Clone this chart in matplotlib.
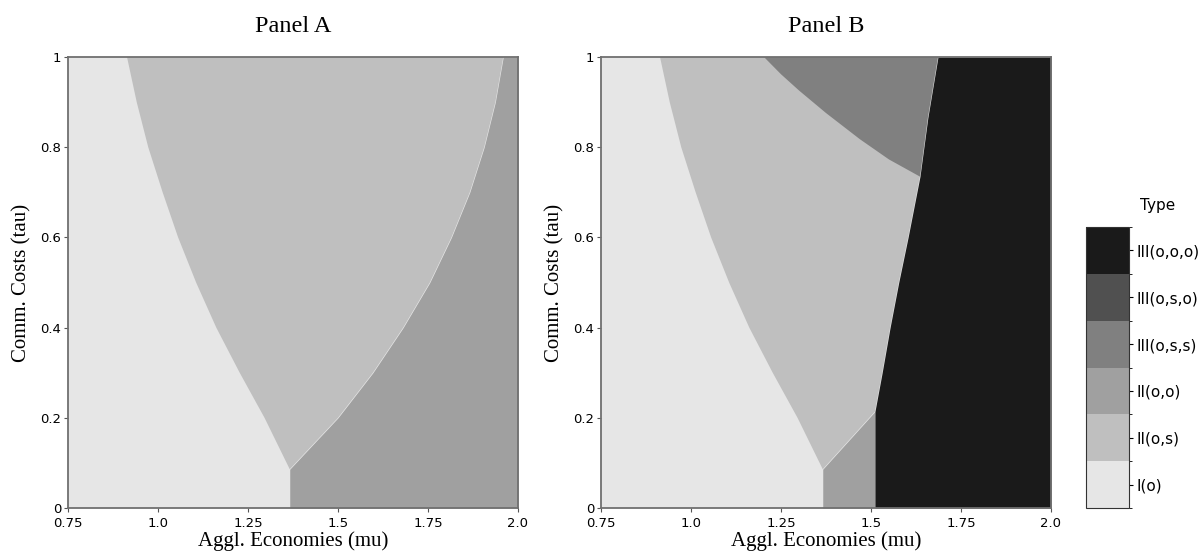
import numpy as np
import matplotlib
matplotlib.use("Agg")
import matplotlib.pyplot as plt
from matplotlib.colors import ListedColormap, BoundaryNorm
from matplotlib.cm import ScalarMappable

# ---- Regime types (colorbar) ----
type_labels = ['I(o)', 'II(o,s)', 'II(o,o)', 'III(o,s,s)', 'III(o,s,o)', 'III(o,o,o)']
type_colors = ['#e6e6e6', '#bfbfbf', '#a0a0a0', '#808080', '#505050', '#1a1a1a']

# ---- Panel A boundaries (mu as function of tau) ----
tau_a = [0.086, 0.2, 0.3, 0.4, 0.5, 0.6, 0.7, 0.8, 0.9, 1.0]
left_a = [1.366, 1.296, 1.227, 1.162, 1.106, 1.056, 1.013, 0.973, 0.941, 0.914]
tau_ar = [0.0, 0.086, 0.2, 0.3, 0.4, 0.5, 0.6, 0.7, 0.8, 0.9, 1.0]
right_a = [1.366, 1.366, 1.500, 1.597, 1.681, 1.755, 1.815, 1.866, 1.906, 1.937, 1.959]

# ---- Panel B boundaries ----
tau_b = [0.086, 0.2, 0.3, 0.4, 0.5, 0.6, 0.7, 0.8, 0.9, 1.0]
left_b = [1.366, 1.296, 1.227, 1.162, 1.106, 1.056, 1.013, 0.973, 0.941, 0.914]
# II(o,o) cap: from the junction to the foot of the III(o,o,o) wall
cap_mu = [1.366, 1.511]
cap_tau = [0.086, 0.214]
# III(o,o,o) left wall
wall_tau = [0.0, 0.214, 0.3, 0.4, 0.5, 0.6, 0.735, 0.866, 1.0]
wall_mu = [1.511, 1.511, 1.531, 1.553, 1.577, 1.603, 1.636, 1.658, 1.686]
# III(o,s,s) lower edge
oss_mu = [1.203, 1.25, 1.30, 1.375, 1.469, 1.55, 1.636]
oss_tau = [1.0, 0.962, 0.926, 0.876, 0.818, 0.773, 0.735]

mu_lim = (0.75, 2.0)
tau_lim = (0.0, 1.0)

plt.rcParams['font.family'] = 'DejaVu Sans'
serif = 'Liberation Serif'

fig = plt.figure(figsize=(12.01, 5.56), dpi=100)
ax_a = fig.add_axes([0.0566, 0.0863, 0.3747, 0.811])
ax_b = fig.add_axes([0.5004, 0.0863, 0.3747, 0.811])
cax = fig.add_axes([0.9043, 0.0863, 0.0358, 0.5054])

# ---- Panel A ----
ax_a.set_facecolor(type_colors[0])
ax_a.fill_betweenx(tau_ar, right_a, mu_lim[1], color=type_colors[2], lw=0)
ax_a.fill(np.r_[left_a, right_a[1:][::-1]], np.r_[tau_a, tau_ar[1:][::-1]],
          color=type_colors[1], lw=0)

# ---- Panel B ----
ax_b.set_facecolor(type_colors[0])
# II(o,s): left curve up, along the top, down the wall, back along the cap
top_idx = [i for i, t in enumerate(wall_tau) if t >= cap_tau[1]]
poly_x = np.r_[left_b, [wall_mu[i] for i in top_idx][::-1], cap_mu[::-1]]
poly_y = np.r_[tau_b, [wall_tau[i] for i in top_idx][::-1], cap_tau[::-1]]
ax_b.fill(poly_x, poly_y, color=type_colors[1], lw=0)
# III(o,s,s)
up_idx = [i for i, t in enumerate(wall_tau) if t >= oss_tau[-1]]
ax_b.fill(np.r_[oss_mu, [wall_mu[i] for i in up_idx]],
          np.r_[oss_tau, [wall_tau[i] for i in up_idx]],
          color=type_colors[3], lw=0)
# II(o,o)
ax_b.fill_between(cap_mu, 0, cap_tau, color=type_colors[2], lw=0)
# III(o,o,o)
ax_b.fill_betweenx(wall_tau, wall_mu, mu_lim[1], color=type_colors[5], lw=0)

for ax, title in [(ax_a, 'Panel A'), (ax_b, 'Panel B')]:
    ax.set_xlim(*mu_lim)
    ax.set_ylim(*tau_lim)
    ax.set_xticks([0.75, 1.0, 1.25, 1.5, 1.75, 2.0])
    ax.set_xticklabels(['0.75', '1.0', '1.25', '1.5', '1.75', '2.0'])
    ax.set_yticks([0, 0.2, 0.4, 0.6, 0.8, 1.0])
    ax.set_yticklabels(['0', '0.2', '0.4', '0.6', '0.8', '1'])
    ax.tick_params(labelsize=9.5, length=3, color='#555555')
    ax.tick_params(axis='x', pad=3.5)
    ax.tick_params(axis='y', pad=2)
    for s in ax.spines.values():
        s.set_color('#707070')
        s.set_linewidth(1.3)
    ax.set_title(title, family=serif, fontsize=17.5, pad=18)
    ax.set_xlabel('Aggl. Economies (mu)', family=serif, fontsize=15, labelpad=1)
    ax.set_ylabel('Comm. Costs (tau)', family=serif, fontsize=15, labelpad=6)

# ---- Colorbar ----
cmap = ListedColormap(type_colors)
norm = BoundaryNorm(np.arange(-0.5, len(type_labels)), cmap.N)
cb = fig.colorbar(ScalarMappable(norm=norm, cmap=cmap), cax=cax,
                  ticks=range(len(type_labels)))
cb.set_ticklabels(type_labels)
cb.ax.tick_params(labelsize=11, length=3, pad=2)
cb.outline.set_edgecolor('#333333')
fig.text(1158 / 1201, 1 - 206 / 556, 'Type', ha='center', va='center', fontsize=11)

fig.savefig('out.png', dpi=100)
